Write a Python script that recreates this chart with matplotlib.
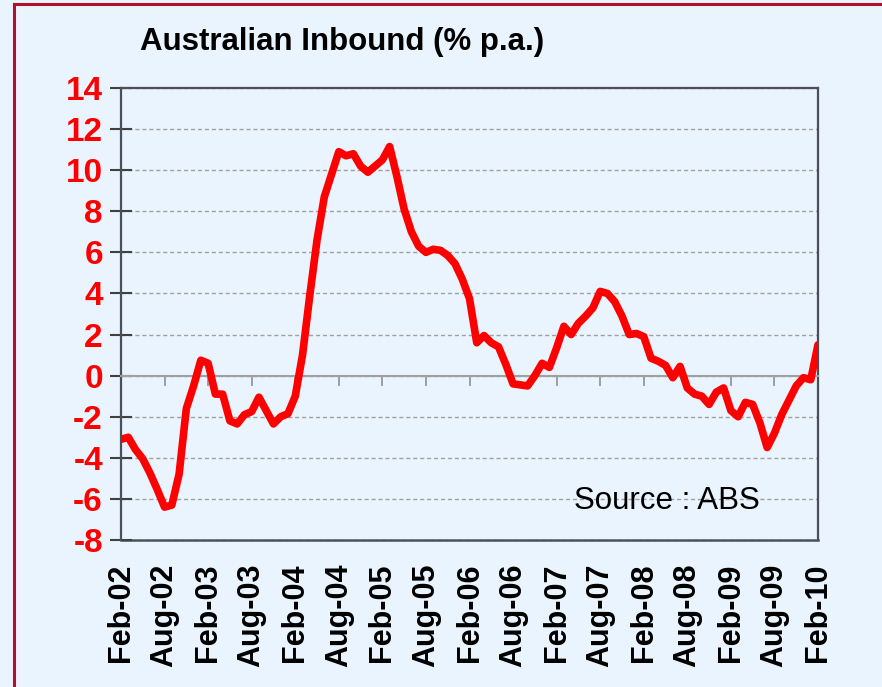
import matplotlib.pyplot as plt
from matplotlib.lines import Line2D

# monthly growth, Feb-02 .. Feb-10 (% p.a.)
inbound = [
    -3.1, -3.0, -3.6, -4.05, -4.75, -5.55, -6.4, -6.3, -4.8, -1.6, -0.5, 0.75,
    0.6, -0.9, -0.9, -2.2, -2.35, -1.9, -1.75, -1.05, -1.7, -2.35, -2.0, -1.85,
    -1.0, 1.0, 3.9, 6.6, 8.7, 9.8, 10.9, 10.7, 10.8, 10.2, 9.9, 10.2,
    10.5, 11.15, 9.7, 8.1, 7.0, 6.3, 6.0, 6.15, 6.1, 5.85, 5.45, 4.7,
    3.75, 1.6, 1.95, 1.6, 1.4, 0.55, -0.4, -0.45, -0.5, 0.0, 0.6, 0.4,
    1.35, 2.4, 2.0, 2.55, 2.9, 3.3, 4.1, 4.0, 3.6, 2.9, 2.0, 2.05,
    1.9, 0.85, 0.7, 0.5, -0.1, 0.45, -0.6, -0.9, -1.0, -1.4, -0.8, -0.6,
    -1.7, -2.0, -1.3, -1.4, -2.3, -3.5, -2.8, -1.9, -1.2, -0.5, -0.1, -0.2,
    1.5,
]
months = list(range(len(inbound)))
tick_labels = ['Feb-02', 'Aug-02', 'Feb-03', 'Aug-03', 'Feb-04', 'Aug-04',
               'Feb-05', 'Aug-05', 'Feb-06', 'Aug-06', 'Feb-07', 'Aug-07',
               'Feb-08', 'Aug-08', 'Feb-09', 'Aug-09', 'Feb-10']
tick_pos = months[::6]
y_ticks = list(range(-8, 15, 2))

bg = '#EAF4FE'
dark = '#4A5058'
plt.rcParams['font.family'] = ['Liberation Sans', 'DejaVu Sans']
plt.rcParams['axes.unicode_minus'] = False  # plain hyphen like the original

fig = plt.figure(figsize=(8.82, 6.87), dpi=100, facecolor=bg)
ax = fig.add_axes([121/882, 147/687, 697/882, 452/687], facecolor=bg)

ax.plot(months, inbound, color='#FF0000', lw=5.5,
        solid_joinstyle='round', solid_capstyle='round', zorder=4)

ax.set_xlim(0, 96)
ax.set_ylim(-8, 14)

# y axis
ax.set_yticks(y_ticks)
ax.tick_params(axis='y', direction='inout', length=16, width=1.5, color='#404040',
               labelcolor='#FF0000', labelsize=24, pad=5)
for t in ax.get_yticklabels():
    t.set_fontweight('bold')
ax.yaxis.grid(True, linestyle=(0, (3, 2)), color='#A0A0A0', lw=1)
ax.set_axisbelow(True)

# zero line with the small date ticks hanging from it
ax.spines['bottom'].set_position(('data', 0))
ax.spines['bottom'].set_color('#A0A0A0')
ax.spines['bottom'].set_linewidth(1.5)
ax.set_xticks(tick_pos)
ax.tick_params(axis='x', direction='out', length=7, width=1.2, color='#909090',
               labelbottom=False)

for s in ['left', 'top', 'right']:
    ax.spines[s].set_color(dark)
    ax.spines[s].set_linewidth(1.6)

# date labels under the plot frame
sec = ax.secondary_xaxis('bottom')
sec.set_xticks(tick_pos, tick_labels, rotation=90, fontsize=22, fontweight='bold')
sec.tick_params(length=0, pad=17)
sec.spines['bottom'].set_color(dark)
sec.spines['bottom'].set_linewidth(1.8)

ax.text(0.65, 0.068, 'Source : ABS', transform=ax.transAxes, fontsize=22.5,
        va='baseline', ha='left')

fig.text(140/882, 1 - 50/687, 'Australian Inbound (% p.a.)', fontsize=22.5,
         fontweight='bold', va='baseline', ha='left')

# dark red frame on the left and top
fig.add_artist(Line2D([14/882, 14/882], [0, 1 - 4/687], color='#B0102E', lw=2.2,
                      transform=fig.transFigure))
fig.add_artist(Line2D([14/882, 1], [1 - 4/687, 1 - 4/687], color='#B0102E', lw=2.2,
                      transform=fig.transFigure))

fig.savefig('out.png', dpi=100, facecolor=bg)
